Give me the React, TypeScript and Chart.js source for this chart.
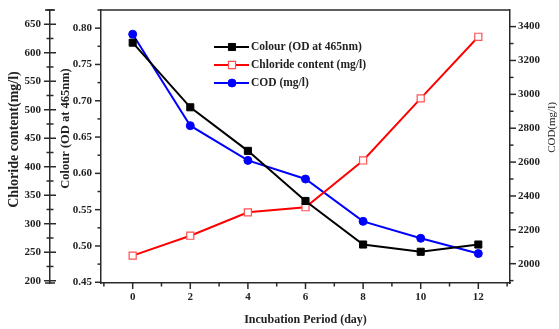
import React, { useEffect, useRef } from 'react';
import { Chart, registerables } from 'chart.js';

Chart.register(...registerables);

// ---- data ----
const days = [0, 2, 4, 6, 8, 10, 12];
const colourOD = [0.78, 0.691, 0.631, 0.562, 0.502, 0.492, 0.502];
const chlorideContent = [244, 279, 320, 329, 411, 520, 628];
const codValues = [3355, 2815, 2610, 2500, 2250, 2150, 2060];

// ---- tick labels ----
const dayTicks = [0, 2, 4, 6, 8, 10, 12];
const chlorideTicks = [200, 250, 300, 350, 400, 450, 500, 550, 600, 650];
const colourTicks = [0.45, 0.5, 0.55, 0.6, 0.65, 0.7, 0.75, 0.8];
const codTicks = [2000, 2200, 2400, 2600, 2800, 3000, 3200, 3400];

const legendLabels = ['Colour (OD at 465nm)', 'Chloride content (mg/l)', 'COD (mg/l)'];
const xTitle = 'Incubation Period (day)';
const chlorideTitle = 'Chloride content(mg/l)';
const colourTitle = 'Colour (OD at 465nm)';
const codTitle = 'COD(mg/l)';

const FONT = "'Liberation Serif', 'Times New Roman', serif";
const AXIS = '#2a2a2a';
const TEXT = '#222';

type TickSpec = { major: number; minor: number; dir: 'down' | 'left' | 'right' | 'both'; majorLen: number; minorLen: number };
const tickSpecs: Record<string, TickSpec> = {
  x: { major: 2, minor: 1, dir: 'down', majorLen: 6, minorLen: 3.5 },
  yCl: { major: 50, minor: 25, dir: 'both', majorLen: 6, minorLen: 3.5 },
  yCol: { major: 0.05, minor: 0.025, dir: 'left', majorLen: 6, minorLen: 3.5 },
  yCod: { major: 200, minor: 100, dir: 'right', majorLen: 6, minorLen: 3.5 },
};

const decorPlugin = {
  id: 'decor',
  afterDraw(chart: any) {
    const { ctx, chartArea } = chart;
    ctx.save();
    ctx.strokeStyle = AXIS;
    ctx.lineWidth = 1.5;
    ctx.beginPath();
    ctx.moveTo(chartArea.left, chartArea.top);
    ctx.lineTo(chartArea.right, chartArea.top);
    ctx.stroke();

    for (const id of Object.keys(tickSpecs)) {
      const s = chart.scales[id];
      if (!s) continue;
      const spec = tickSpecs[id];
      const start = Math.ceil(s.min / spec.minor - 1e-9);
      const end = Math.floor(s.max / spec.minor + 1e-9);
      for (let k = start; k <= end; k++) {
        const v = k * spec.minor;
        const r = v / spec.major;
        const isMajor = Math.abs(r - Math.round(r)) < 1e-6;
        const len = isMajor ? spec.majorLen : spec.minorLen;
        const p = s.getPixelForValue(v);
        ctx.beginPath();
        if (spec.dir === 'down') {
          ctx.moveTo(p, s.top);
          ctx.lineTo(p, s.top + len);
        } else if (spec.dir === 'left') {
          ctx.moveTo(s.right, p);
          ctx.lineTo(s.right - len, p);
        } else if (spec.dir === 'right') {
          ctx.moveTo(s.left, p);
          ctx.lineTo(s.left + len, p);
        } else {
          ctx.moveTo(s.right - len, p);
          ctx.lineTo(s.right + len, p);
        }
        ctx.stroke();
      }
      if (spec.dir === 'both') {
        ctx.beginPath();
        ctx.moveTo(s.right - 5, s.top);
        ctx.lineTo(s.right + 5, s.top);
        ctx.moveTo(s.right - 5, s.bottom);
        ctx.lineTo(s.right + 5, s.bottom);
        ctx.stroke();
      }
    }

    const midY = (chartArea.top + chartArea.bottom) / 2;
    const drawRot = (text: string, x: number, y: number, font: string) => {
      ctx.save();
      ctx.translate(x, y);
      ctx.rotate(-Math.PI / 2);
      ctx.font = font;
      ctx.fillStyle = TEXT;
      ctx.textAlign = 'center';
      ctx.textBaseline = 'middle';
      ctx.fillText(text, 0, 0);
      ctx.restore();
    };
    const sCl = chart.scales.yCl;
    const sCol = chart.scales.yCol;
    const sCod = chart.scales.yCod;
    drawRot(chlorideTitle, sCl.left + 14, midY - 7, `bold 14px ${FONT}`);
    drawRot(colourTitle, sCol.left + 16, midY - 18, `bold 12.5px ${FONT}`);
    drawRot(codTitle, sCod.right - 7, midY - 19, `11px ${FONT}`);

    // legend
    const lx = chartArea.left + 113;
    const ly = chartArea.top + 37;
    chart.data.datasets.forEach((ds: any, i: number) => {
      const y = ly + i * 18;
      ctx.strokeStyle = ds.borderColor;
      ctx.lineWidth = 2;
      ctx.beginPath();
      ctx.moveTo(lx, y);
      ctx.lineTo(lx + 35, y);
      ctx.stroke();
      const mx = lx + 18;
      ctx.beginPath();
      if (ds.pointStyle === 'circle') {
        ctx.arc(mx, y, ds.pointRadius, 0, Math.PI * 2);
      } else {
        const h = Math.SQRT1_2 * ds.pointRadius;
        ctx.rect(mx - h, y - h, 2 * h, 2 * h);
      }
      ctx.fillStyle = ds.pointBackgroundColor;
      ctx.fill();
      ctx.strokeStyle = ds.pointBorderColor;
      ctx.lineWidth = ds.pointBorderWidth;
      ctx.stroke();
      ctx.font = `bold 11.5px ${FONT}`;
      ctx.fillStyle = TEXT;
      ctx.textAlign = 'left';
      ctx.textBaseline = 'middle';
      ctx.fillText(legendLabels[i], lx + 37, y + 0.5);
    });
    ctx.restore();
  },
};

const setTicks = (vals: number[]) => (s: any) => {
  s.ticks = vals.map((v) => ({ value: v }));
};
const zeroPad = (s: any) => {
  s.paddingTop = 0;
  s.paddingBottom = 0;
  s.paddingLeft = 0;
  s.paddingRight = 0;
};

export default function App() {
  const ref = useRef<HTMLCanvasElement | null>(null);
  useEffect(() => {
    if (!ref.current) return;
    const tickFont = { family: FONT, size: 11, weight: 'bold' as const };
    const toPts = (vals: number[]) => days.map((d, i) => ({ x: d, y: vals[i] }));
    const chart = new Chart(ref.current, {
      type: 'line',
      data: {
        datasets: [
          {
            label: legendLabels[0],
            data: toPts(colourOD),
            yAxisID: 'yCol',
            borderColor: '#000000',
            borderWidth: 2,
            pointStyle: 'rect',
            pointRadius: 5,
            pointBackgroundColor: '#000000',
            pointBorderColor: '#000000',
            pointBorderWidth: 1,
            order: 1,
          },
          {
            label: legendLabels[1],
            data: toPts(chlorideContent),
            yAxisID: 'yCl',
            borderColor: '#ff0000',
            borderWidth: 2,
            pointStyle: 'rect',
            pointRadius: 5,
            pointBackgroundColor: '#ffffff',
            pointBorderColor: '#ff5050',
            pointBorderWidth: 1.2,
            order: 2,
          },
          {
            label: legendLabels[2],
            data: toPts(codValues),
            yAxisID: 'yCod',
            borderColor: '#0000ff',
            borderWidth: 2,
            pointStyle: 'circle',
            pointRadius: 4,
            pointBackgroundColor: '#0000ff',
            pointBorderColor: '#0000ff',
            pointBorderWidth: 1,
            order: 3,
          },
        ],
      },
      options: {
        responsive: false,
        animation: false,
        layout: { padding: { top: 10, left: 0, right: 0, bottom: 0 } },
        plugins: { legend: { display: false }, tooltip: { enabled: false } },
        scales: {
          x: {
            type: 'linear',
            position: 'bottom',
            min: -1.1,
            max: 13.1,
            grid: { display: false, drawTicks: false },
            border: { display: true, color: AXIS, width: 1.5 },
            ticks: { autoSkip: false, font: tickFont, color: TEXT, padding: 8, maxRotation: 0 },
            afterBuildTicks: setTicks(dayTicks),
            title: { display: true, text: xTitle, font: { family: FONT, size: 12, weight: 'bold' }, color: TEXT, padding: { top: 0, bottom: 2 } },
            afterFit: (s: any) => { s.height = 46; zeroPad(s); },
          },
          yCl: {
            type: 'linear',
            position: 'left',
            weight: 10,
            min: 196,
            max: 675,
            grid: { display: false, drawTicks: false },
            border: { display: true, color: AXIS, width: 1.5 },
            ticks: { autoSkip: false, font: tickFont, color: TEXT, padding: 9, callback: (v: any) => String(v) },
            afterBuildTicks: setTicks(chlorideTicks),
            afterFit: (s: any) => { s.width = 50; zeroPad(s); },
          },
          yCol: {
            type: 'linear',
            position: 'left',
            weight: 0,
            min: 0.449,
            max: 0.825,
            grid: { display: false, drawTicks: false },
            border: { display: true, color: AXIS, width: 1.5 },
            ticks: { autoSkip: false, font: tickFont, color: TEXT, padding: 9, callback: (v: any) => Number(v).toFixed(2) },
            afterBuildTicks: setTicks(colourTicks),
            afterFit: (s: any) => { s.width = 51; zeroPad(s); },
          },
          yCod: {
            type: 'linear',
            position: 'right',
            min: 1886,
            max: 3498,
            grid: { display: false, drawTicks: false },
            border: { display: true, color: AXIS, width: 1.5 },
            ticks: { autoSkip: false, font: tickFont, color: TEXT, padding: 8, callback: (v: any) => String(Math.round(v)) },
            afterBuildTicks: setTicks(codTicks),
            afterFit: (s: any) => { s.width = 49; zeroPad(s); },
          },
        },
      } as any,
      plugins: [decorPlugin],
    });
    return () => chart.destroy();
  }, []);
  return (
    <div style={{ position: 'absolute', left: 0, top: 0, width: 559, height: 329, background: '#fff' }}>
      <canvas ref={ref} width={559} height={329} style={{ display: 'block' }} />
    </div>
  );
}
